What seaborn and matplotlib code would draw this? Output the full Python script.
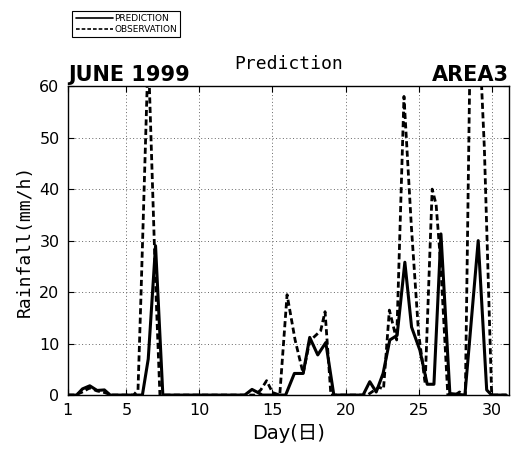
import matplotlib
matplotlib.use("Agg")
import matplotlib.pyplot as plt
import seaborn as sns

# Vertices of the two hourly-rainfall series (day of June 1999, mm/h)
pred_day = [1.0, 1.6, 2.0, 2.5, 3.0, 3.5, 3.9, 6.1, 6.5, 7.0, 7.5,
            13.1, 13.6, 14.0, 14.3, 15.9, 16.5, 17.1, 17.55, 18.1, 18.65, 19.2,
            21.2, 21.66, 22.1, 22.57, 23.03, 23.53, 24.06, 24.52, 25.09, 25.59,
            26.05, 26.53, 27.14, 28.17, 29.08, 29.66, 30.0, 31.0]
pred_val = [0, 0, 1.2, 1.8, 0.9, 1.0, 0, 0, 7, 29, 0,
            0, 1.1, 0.5, 0, 0, 4.2, 4.2, 11.2, 7.8, 10.2, 0,
            0, 2.6, 0.6, 4.2, 10.7, 11.6, 25.8, 13.2, 8.7, 2.1,
            2.1, 31.3, 0.3, 0, 30, 1.0, 0, 0]

obs_day = [1.0, 1.5, 2.0, 2.5, 3.0, 3.5, 4.0, 5.5, 5.8, 6.0, 6.5, 7.0, 7.3,
           13.8, 14.2, 14.6, 15.0, 15.5, 16.0, 16.55, 17.1, 17.55, 18.3, 18.6, 19.0,
           21.5, 22.0, 22.3, 22.6, 23.0, 23.5, 24.0, 24.5, 25.0, 25.45,
           25.93, 26.2, 26.5, 27.0, 27.5, 27.8, 28.1, 28.2, 28.5, 29.0, 29.5, 30.0, 31.0]
obs_val = [0, 0, 0.6, 1.4, 0.8, 0.5, 0, 0, 1, 19, 67, 22, 0,
           0, 1.0, 2.8, 0.5, 0, 19.5, 10.7, 4.2, 10.5, 12.5, 16.2, 0,
           0, 1.0, 1.5, 1.2, 16.5, 10.7, 58, 33, 12, 2.3,
           40, 37, 26, 0, 0, 0.6, 0, 0, 62, 80, 48, 0, 0]

x_ticks = [1, 5, 10, 15, 20, 25, 30]
y_ticks = [0, 10, 20, 30, 40, 50, 60]

sns.set_style("ticks")
plt.rcParams["font.family"] = ["DejaVu Sans", "Noto Sans CJK JP"]
plt.rcParams["text.color"] = "black"
plt.rcParams["axes.labelcolor"] = "black"
plt.rcParams["xtick.color"] = "black"
plt.rcParams["ytick.color"] = "black"

fig = plt.figure(figsize=(5.18, 4.51), dpi=100)
ax = fig.add_axes([0.131, 0.124, 0.852, 0.685])

sns.lineplot(x=pred_day, y=pred_val, ax=ax, color="black", lw=2.2,
             label="PREDICTION", sort=False)
sns.lineplot(x=obs_day, y=obs_val, ax=ax, color="black", lw=2.0,
             linestyle=(0, (2.2, 1.2)), label="OBSERVATION", sort=False)

ax.set_xlim(1, 31.2)
ax.set_ylim(0, 60)
ax.set_xticks(x_ticks)
ax.set_yticks(y_ticks)
ax.grid(True, linestyle=(0, (1, 2.5)), color="#666666", lw=0.7)
ax.tick_params(direction="in", length=4, right=True, top=True,
               labelsize=11.5, pad=6)
for s in ax.spines.values():
    s.set_linewidth(1.0)
    s.set_color("black")

ax.set_title("Prediction", fontsize=13, pad=12, family="DejaVu Sans Mono")
ax.text(0.0, 1.005, "JUNE 1999", transform=ax.transAxes, ha="left",
        va="bottom", fontsize=15, fontweight="bold")
ax.text(1.0, 1.005, "AREA3", transform=ax.transAxes, ha="right",
        va="bottom", fontsize=15, fontweight="bold")
ax.set_xlabel("Day(日)", fontsize=14, labelpad=4,
              family=["DejaVu Sans", "Noto Sans CJK JP"])
ax.set_ylabel("Rainfall(mm/h)", fontsize=13, labelpad=4,
              family="DejaVu Sans Mono")

ax.get_legend().remove()
h, l = ax.get_legend_handles_labels()
leg = fig.legend(h, l, loc="upper left", bbox_to_anchor=(0.131, 0.985),
                 fontsize=6.5, handlelength=4.2, handletextpad=0.1,
                 labelspacing=0.15, borderpad=0.35, fancybox=False,
                 framealpha=1, edgecolor="black")
leg.get_frame().set_linewidth(0.8)
for line in leg.get_lines():
    line.set_linewidth(1.2)

fig.savefig("out.png", dpi=100)
